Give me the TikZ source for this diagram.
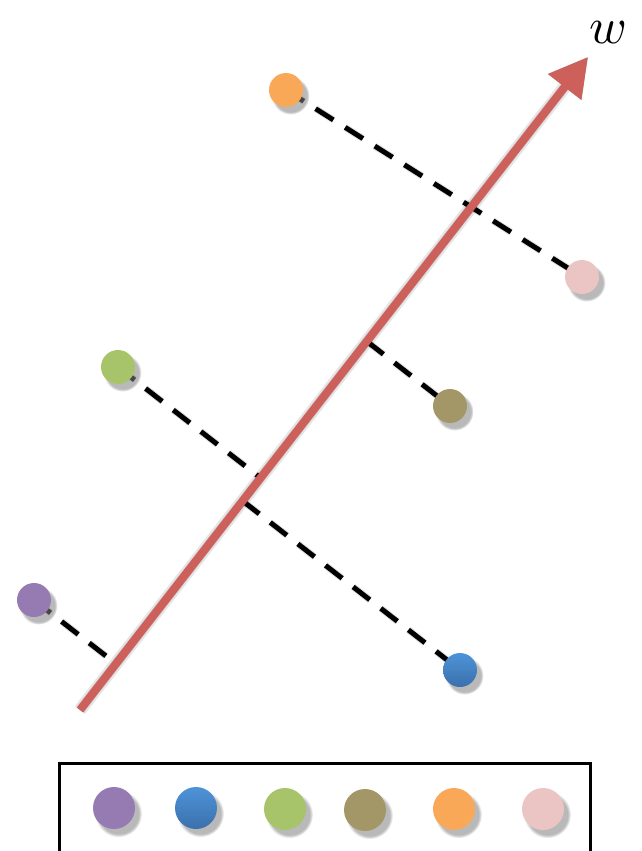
\documentclass[tikz,border=0pt]{standalone}
\usetikzlibrary{shadows,arrows.meta,calc}
\definecolor{cred}{HTML}{CD605B}
\definecolor{corange}{HTML}{F9A857}
\definecolor{cpink}{HTML}{EBC5C4}
\definecolor{cgreen}{HTML}{A8C46A}
\definecolor{colive}{HTML}{A39767}
\definecolor{cpurple}{HTML}{957BB2}
\definecolor{cbluet}{HTML}{4D93D8}
\definecolor{cblueb}{HTML}{3B70AC}
\begin{document}
\begin{tikzpicture}[x=1pt,y=-1pt,
  dot/.style={circle,inner sep=0pt,minimum size=34pt,
    circular drop shadow={shadow xshift=4pt,shadow yshift=-5pt,shadow scale=1.12,opacity=0.55}},
  ldot/.style={dot,minimum size=42pt},
  blueshade/.style={top color=cbluet,bottom color=cblueb},
  proj/.style={line width=5pt,dash pattern=on 21pt off 14pt},
  projshadow/.style={line width=7pt,dash pattern=on 21pt off 14pt,black,opacity=0.12},
  axisline/.style={line width=8pt,cred,-{Triangle[length=38pt,width=40pt]}},
  axisshadow/.style={line width=#1,black,-{Triangle[length=38pt,width=40pt]}}
]
\useasboundingbox (0,0) rectangle (641,851);

% axis end points
\coordinate (A) at (80,710);
\coordinate (B) at (588,57);

% data points (positions)
\coordinate (po) at (286,90);
\coordinate (pp) at (582,277);
\coordinate (pg) at (118,367);
\coordinate (pl) at (450,406);
\coordinate (pu) at (34,600);
\coordinate (pb) at (460,670);

% projections on the axis
\coordinate (fg) at ($(A)!(pg)!(B)$);
\coordinate (fl) at ($(A)!(pl)!(B)$);
\coordinate (fu) at ($(A)!(pu)!(B)$);
\coordinate (fb) at ($(A)!(pb)!(B)$);

% dashed projection line shadows
\begin{scope}[xshift=3pt,yshift=-3pt]
\draw[projshadow] (po) -- (pp);
\draw[projshadow] (pg) -- (fg);
\draw[projshadow] (fb) -- (pb);
\draw[projshadow] (fl) -- (pl);
\draw[projshadow] (pu) -- (fu);
\end{scope}

% dashed projection lines
\draw[proj] (po) -- (pp);
\draw[proj] (pg) -- (fg);
\draw[proj] (fb) -- (pb);
\draw[proj] (fl) -- (pl);
\draw[proj] (pu) -- (fu);

% dots
\node[dot,fill=corange] (o) at (po) {};
\node[dot,fill=cpink] (p) at (pp) {};
\node[dot,fill=cgreen] (g) at (pg) {};
\node[dot,fill=colive] (l) at (pl) {};
\node[dot,fill=cpurple] (u) at (pu) {};
\node[dot,blueshade] (b) at (pb) {};

% axis shadow
\begin{scope}[xshift=6pt,yshift=-5pt,transparency group,opacity=0.10]
\draw[axisshadow=13pt] (A) -- (B);
\end{scope}
\begin{scope}[xshift=6pt,yshift=-5pt,transparency group,opacity=0.14]
\draw[axisshadow=9pt] (A) -- (B);
\end{scope}
\begin{scope}[xshift=5pt,yshift=-4pt,transparency group,opacity=0.16]
\draw[axisshadow=6pt] (A) -- (B);
\end{scope}

% axis
\draw[axisline] (A) -- (B);
\node[inner sep=0pt,scale=5.1] (w) at (608,33) {$w$};

% legend
\draw[line width=3pt,fill=white,drop shadow={shadow xshift=2pt,shadow yshift=-2pt,opacity=0.2}] (59,763) rectangle (590,880);
\node[ldot,fill=cpurple] (lu) at (114,808) {};
\node[ldot,blueshade] (lb) at (196,808) {};
\node[ldot,fill=cgreen] (lg) at (285,809) {};
\node[ldot,fill=colive] (ll) at (365,810) {};
\node[ldot,fill=corange] (lo) at (454,809) {};
\node[ldot,fill=cpink] (lp) at (543,809) {};
\end{tikzpicture}
\end{document}
